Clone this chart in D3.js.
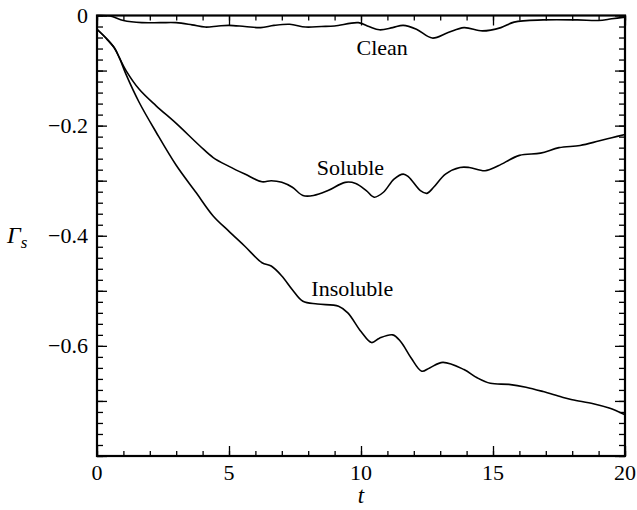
<!DOCTYPE html>
<html>
<head>
<meta charset="utf-8">
<script src="https://cdn.jsdelivr.net/npm/d3@7"></script>
<style>
  body { margin: 0; background: #fff; }
</style>
</head>
<body>
<svg id="chart" width="637" height="510"></svg>
<script>
// curves
var tClean = [0, 0.5, 1.0, 1.7, 2.4, 3.0, 3.6, 4.1, 4.6, 5.0, 5.6, 6.2, 6.7, 7.3, 7.9, 8.5, 9.0, 9.9, 10.3, 10.7, 11.2, 11.6, 12.1, 12.7, 13.3, 13.9, 14.6, 15.3, 15.8, 16.9, 18.2, 19.0, 19.5, 20];
var clean = [0, -0.001, -0.009, -0.013, -0.013, -0.013, -0.017, -0.021, -0.019, -0.018, -0.020, -0.022, -0.018, -0.016, -0.021, -0.020, -0.019, -0.013, -0.020, -0.026, -0.022, -0.018, -0.025, -0.041, -0.031, -0.022, -0.028, -0.022, -0.012, -0.008, -0.008, -0.009, -0.006, -0.003];

var tSoluble = [0, 0.34, 0.66, 0.85, 1.1, 1.6, 2.24, 3.0, 3.9, 4.4, 5.0, 5.6, 6.25, 6.6, 7.0, 7.4, 7.8, 8.2, 8.75, 9.4, 9.8, 10.2, 10.5, 10.85, 11.25, 11.6, 11.8, 12.25, 12.5, 12.75, 13.2, 13.75, 14.1, 14.7, 15.2, 16.0, 16.8, 17.5, 18.3, 19.0, 19.5, 20];
var soluble = [-0.025, -0.041, -0.059, -0.077, -0.100, -0.134, -0.164, -0.196, -0.237, -0.258, -0.274, -0.288, -0.302, -0.300, -0.303, -0.312, -0.327, -0.327, -0.318, -0.303, -0.305, -0.318, -0.330, -0.321, -0.297, -0.288, -0.293, -0.318, -0.323, -0.312, -0.288, -0.276, -0.276, -0.282, -0.273, -0.254, -0.250, -0.240, -0.236, -0.228, -0.222, -0.216];

var tInsoluble = [0, 0.34, 0.66, 0.85, 1.1, 1.6, 2.24, 3.0, 3.76, 4.4, 5.0, 5.6, 6.25, 6.6, 7.0, 7.4, 7.8, 8.35, 9.15, 9.5, 10.0, 10.4, 10.7, 11.2, 11.5, 11.9, 12.3, 12.6, 13.1, 13.9, 14.4, 14.9, 15.6, 16.25, 16.9, 17.6, 18.0, 18.8, 19.4, 20];
var insoluble = [-0.025, -0.041, -0.059, -0.077, -0.107, -0.158, -0.212, -0.272, -0.322, -0.364, -0.392, -0.419, -0.449, -0.455, -0.473, -0.498, -0.519, -0.524, -0.528, -0.540, -0.574, -0.594, -0.586, -0.580, -0.592, -0.622, -0.646, -0.640, -0.630, -0.643, -0.658, -0.668, -0.670, -0.675, -0.683, -0.693, -0.698, -0.705, -0.713, -0.725];

var xLabelTicks = [0, 5, 10, 15, 20];
var yLabelTicks = [0, -0.2, -0.4, -0.6];

// label text and where it sits (t, value)
var curveLabels = ["Clean", "Soluble", "Insoluble"];
var labelT = [10.8, 9.6, 9.67];
var labelV = [-0.072, -0.29, -0.509];

var serif = "'Liberation Serif', 'Times New Roman', Times, serif";
var svg = d3.select("#chart");
// note: "top" is taken by window.top, so use other names
var pLeft = 97, pRight = 625, pTop = 15.5, pBottom = 456;

var x = d3.scaleLinear().domain([0, 20]).range([pLeft, pRight]);
var y = d3.scaleLinear().domain([-0.8, 0]).range([pBottom, pTop]);

var xMinor = d3.range(0, 21, 1);
var xMajor = d3.range(0, 21, 5);
var yMinor = d3.range(0, 41).map(function (i) { return -i * 0.02; });
var yMajor = d3.range(0, 9).map(function (i) { return -i * 0.1; });

function tickAxis(axis, vals, len, gx, gy) {
  var g = svg.append("g").attr("transform", "translate(" + gx + "," + gy + ")")
    .call(axis.tickValues(vals).tickSize(len).tickFormat(""));
  g.select(".domain").remove();
  g.selectAll("line").attr("stroke", "#000").attr("stroke-width", 1.3);
  return g;
}

// inward ticks on all four sides
tickAxis(d3.axisBottom(x), xMinor, -5, 0, pBottom);
tickAxis(d3.axisBottom(x), xMajor, -10, 0, pBottom);
tickAxis(d3.axisTop(x), xMinor, -5, 0, pTop);
tickAxis(d3.axisTop(x), xMajor, -10, 0, pTop);
tickAxis(d3.axisLeft(y), yMinor, -6, pLeft, 0);
tickAxis(d3.axisLeft(y), yMajor, -10, pLeft, 0);
tickAxis(d3.axisRight(y), yMinor, -6, pRight, 0);
tickAxis(d3.axisRight(y), yMajor, -10, pRight, 0);

// frame
svg.append("rect")
  .attr("x", pLeft).attr("y", pTop)
  .attr("width", pRight - pLeft).attr("height", pBottom - pTop)
  .attr("fill", "none").attr("stroke", "#000").attr("stroke-width", 2.2);

// tick labels
svg.selectAll(".xl").data(xLabelTicks).enter().append("text")
  .attr("x", function (d) { return x(d); })
  .attr("y", pBottom + 24)
  .attr("text-anchor", "middle")
  .attr("font-family", serif)
  .style("font-size", "22px")
  .text(function (d) { return d; });

var fmt = d3.format("");
svg.selectAll(".yl").data(yLabelTicks).enter().append("text")
  .attr("x", pLeft - 9)
  .attr("y", function (d) { return y(d) + 7; })
  .attr("text-anchor", "end")
  .attr("font-family", serif)
  .style("font-size", "22px")
  .text(function (d) { return d === 0 ? "0" : fmt(d); });

// axis titles
svg.append("text")
  .attr("x", (pLeft + pRight) / 2).attr("y", 503)
  .attr("text-anchor", "middle")
  .attr("font-family", serif)
  .style("font-size", "23px").style("font-style", "italic")
  .text("t");

var yt = svg.append("text")
  .attr("x", 7).attr("y", y(-0.4) + 7)
  .attr("font-family", serif)
  .style("font-size", "24px").style("font-style", "italic");
yt.append("tspan").text("Γ");
yt.append("tspan").attr("dy", 5).style("font-size", "17px").text("s");

// curves
var line = d3.line()
  .x(function (d) { return x(d[0]); })
  .y(function (d) { return y(d[1]); })
  .curve(d3.curveCatmullRom.alpha(0.5));

[[tClean, clean], [tSoluble, soluble], [tInsoluble, insoluble]].forEach(function (s) {
  svg.append("path")
    .datum(d3.zip(s[0], s[1]))
    .attr("d", line)
    .attr("fill", "none")
    .attr("stroke", "#000")
    .attr("stroke-width", 1.6);
});

svg.selectAll(".cl").data(curveLabels).enter().append("text")
  .attr("x", function (d, i) { return x(labelT[i]); })
  .attr("y", function (d, i) { return y(labelV[i]); })
  .attr("text-anchor", "middle")
  .attr("font-family", serif)
  .style("font-size", "22px")
  .text(function (d) { return d; });
</script>
</body>
</html>
